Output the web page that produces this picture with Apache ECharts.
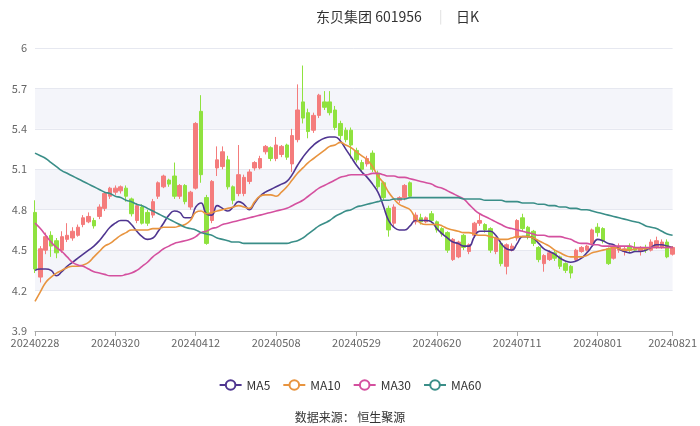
<!DOCTYPE html>
<html><head><meta charset="utf-8">
<script src="https://cdn.jsdelivr.net/npm/echarts@6/dist/echarts.min.js"></script>
<style>html,body{margin:0;padding:0;background:#fff}#c{width:700px;height:426px}</style>
</head><body><div id="c"></div>
<script>
const dates = [
'20240228','20240229',
'20240301','20240304','20240305','20240306','20240307','20240308','20240311','20240312','20240313','20240314','20240315',
'20240318','20240319','20240320','20240321','20240322','20240325','20240326','20240327','20240328','20240329',
'20240401','20240402','20240403','20240408','20240409','20240410','20240411','20240412','20240415','20240416','20240417','20240418','20240419',
'20240422','20240423','20240424','20240425','20240426','20240429','20240430',
'20240506','20240507','20240508','20240509','20240510','20240513','20240514','20240515','20240516','20240517',
'20240520','20240521','20240522','20240523','20240524','20240527','20240528','20240529','20240530','20240531',
'20240603','20240604','20240605','20240606','20240607','20240611','20240612','20240613','20240614',
'20240617','20240618','20240619','20240620','20240621','20240624','20240625','20240626','20240627','20240628',
'20240701','20240702','20240703','20240704','20240705','20240708','20240709','20240710','20240711','20240712',
'20240715','20240716','20240717','20240718','20240719','20240722','20240723','20240724','20240725','20240726',
'20240729','20240730','20240731',
'20240801','20240802','20240805','20240806','20240807','20240808','20240809','20240812','20240813','20240814','20240815','20240816',
'20240819','20240820','20240821'
];
// [open, close, low, high]
const kline = [
[4.78,4.36,4.33,4.87],[4.30,4.51,4.26,4.53],[4.50,4.60,4.47,4.63],[4.61,4.53,4.45,4.64],[4.57,4.48,4.44,4.59],
[4.50,4.60,4.48,4.64],[4.58,4.61,4.56,4.70],[4.59,4.64,4.57,4.67],[4.61,4.67,4.60,4.69],[4.69,4.74,4.67,4.76],
[4.71,4.75,4.70,4.78],[4.72,4.68,4.66,4.74],[4.75,4.82,4.73,4.84],[4.81,4.92,4.79,4.93],[4.90,4.96,4.88,4.97],
[4.93,4.96,4.91,4.98],[4.94,4.97,4.92,4.98],[4.96,4.90,4.86,4.98],[4.88,4.77,4.75,4.89],[4.72,4.83,4.70,4.85],
[4.82,4.70,4.69,4.84],[4.78,4.70,4.68,4.80],[4.76,4.86,4.74,4.88],[4.90,5.00,4.88,5.01],[4.97,5.05,4.96,5.06],
[5.02,4.99,4.97,5.03],[5.05,4.90,4.88,5.15],[4.90,4.98,4.88,4.99],[4.98,4.86,4.84,4.99],[4.82,4.93,4.80,4.94],
[4.96,5.44,4.95,5.45],[5.53,5.06,5.00,5.65],[4.89,4.55,4.54,4.91],[4.72,5.01,4.70,5.02],[5.11,5.17,5.05,5.27],
[5.12,5.23,5.10,5.27],[5.17,4.97,4.95,5.20],[4.97,4.87,4.84,4.98],[4.92,5.06,4.90,5.28],[4.92,5.04,4.90,5.06],
[5.01,5.08,4.99,5.10],[5.11,5.15,5.09,5.16],[5.11,5.18,5.10,5.20],[5.23,5.27,5.21,5.28],[5.26,5.18,5.16,5.27],
[5.18,5.28,5.16,5.34],[5.21,5.27,5.19,5.28],[5.28,5.19,5.17,5.29],[5.14,5.35,5.08,5.40],[5.32,5.54,5.30,5.73],
[5.60,5.48,5.44,5.87],[5.52,5.38,5.33,5.55],[5.39,5.50,5.37,5.52],[5.50,5.65,5.48,5.66],[5.60,5.56,5.54,5.68],
[5.60,5.52,5.50,5.68],[5.54,5.41,5.39,5.57],[5.44,5.35,5.32,5.46],[5.39,5.32,5.30,5.41],[5.39,5.28,5.18,5.41],
[5.24,5.17,5.15,5.26],[5.15,5.10,5.08,5.17],[5.14,5.18,5.12,5.20],[5.22,5.10,5.08,5.24],[5.07,4.97,4.95,5.09],
[5.00,4.89,4.87,5.01],[4.81,4.65,4.60,4.83],[4.70,4.82,4.68,4.84],[4.87,4.89,4.85,4.90],[4.89,4.98,4.87,4.99],
[5.00,4.90,4.89,5.01],[4.71,4.76,4.69,4.78],[4.74,4.71,4.69,4.77],[4.71,4.74,4.70,4.75],[4.77,4.72,4.70,4.79],
[4.71,4.65,4.63,4.72],[4.66,4.62,4.60,4.67],[4.63,4.50,4.48,4.64],[4.43,4.58,4.42,4.59],[4.45,4.56,4.44,4.57],
[4.61,4.52,4.50,4.62],[4.49,4.54,4.47,4.55],[4.61,4.70,4.59,4.71],[4.70,4.72,4.68,4.77],[4.69,4.65,4.63,4.70],
[4.66,4.50,4.48,4.67],[4.49,4.59,4.47,4.60],[4.55,4.40,4.38,4.57],[4.38,4.54,4.32,4.55],[4.50,4.53,4.49,4.55],
[4.59,4.72,4.57,4.73],[4.74,4.66,4.64,4.77],[4.67,4.60,4.58,4.68],[4.64,4.55,4.53,4.65],[4.52,4.43,4.41,4.53],
[4.40,4.46,4.34,4.47],[4.43,4.48,4.42,4.50],[4.48,4.44,4.42,4.50],[4.45,4.38,4.36,4.46],[4.40,4.35,4.33,4.41],
[4.38,4.33,4.29,4.39],[4.43,4.50,4.42,4.51],[4.49,4.52,4.48,4.53],[4.50,4.53,4.49,4.54],[4.55,4.65,4.54,4.66],
[4.67,4.63,4.60,4.70],[4.66,4.57,4.55,4.67],[4.51,4.40,4.39,4.52],[4.44,4.52,4.43,4.53],[4.50,4.53,4.48,4.55],
[4.49,4.51,4.46,4.53],[4.53,4.50,4.48,4.55],[4.52,4.50,4.49,4.56],[4.49,4.52,4.46,4.53],[4.52,4.50,4.48,4.54],
[4.50,4.56,4.49,4.58],[4.52,4.57,4.51,4.60],[4.52,4.56,4.51,4.58],[4.56,4.45,4.44,4.58],[4.47,4.52,4.46,4.53]
];
const ma5 = [4.35,4.36,4.36,4.35,4.31,4.34,4.38,4.41,4.44,4.47,4.50,4.53,4.57,4.62,4.67,4.70,4.72,4.72,4.69,4.64,
4.60,4.58,4.59,4.64,4.70,4.76,4.79,4.78,4.74,4.74,4.82,4.85,4.77,4.76,4.83,4.81,4.79,4.82,4.86,4.84,
4.80,4.85,4.90,4.93,4.95,4.97,4.99,5.01,5.06,5.13,5.19,5.24,5.28,5.31,5.33,5.34,5.34,5.31,5.25,5.19,
5.13,5.08,5.04,4.99,4.93,4.83,4.72,4.67,4.65,4.65,4.68,4.72,4.72,4.72,4.71,4.66,4.62,4.59,4.56,4.55,
4.53,4.53,4.60,4.64,4.64,4.64,4.61,4.55,4.51,4.50,4.55,4.60,4.60,4.59,4.55,4.51,4.49,4.47,4.44,4.42,
4.41,4.42,4.44,4.48,4.53,4.58,4.57,4.55,4.54,4.51,4.49,4.48,4.49,4.49,4.50,4.52,4.54,4.54,4.53,4.52];
const ma10 = [4.12,4.19,4.26,4.30,4.33,4.35,4.37,4.38,4.38,4.39,4.41,4.45,4.49,4.53,4.55,4.58,4.61,4.63,4.65,4.65,
4.65,4.65,4.66,4.66,4.67,4.67,4.67,4.68,4.69,4.72,4.78,4.79,4.77,4.78,4.79,4.80,4.81,4.82,4.83,4.82,
4.81,4.86,4.90,4.91,4.91,4.90,4.93,4.97,5.02,5.07,5.11,5.15,5.18,5.21,5.24,5.27,5.28,5.30,5.28,5.26,
5.23,5.20,5.17,5.12,5.05,5.00,4.93,4.88,4.84,4.82,4.80,4.74,4.70,4.69,4.69,4.69,4.68,4.66,4.65,4.64,
4.63,4.63,4.62,4.61,4.61,4.60,4.59,4.58,4.58,4.59,4.60,4.60,4.60,4.59,4.57,4.55,4.53,4.50,4.48,4.46,
4.45,4.45,4.45,4.46,4.48,4.49,4.50,4.51,4.52,4.51,4.50,4.50,4.51,4.51,4.51,4.52,4.52,4.52,4.52,4.52];
const ma30 = [4.70,4.66,4.61,4.56,4.52,4.49,4.45,4.41,4.39,4.38,4.36,4.34,4.33,4.32,4.31,4.31,4.31,4.32,4.33,4.35,
4.38,4.41,4.45,4.48,4.51,4.53,4.55,4.56,4.57,4.58,4.60,4.63,4.64,4.66,4.67,4.69,4.70,4.71,4.72,4.73,
4.74,4.75,4.76,4.77,4.78,4.79,4.80,4.81,4.83,4.85,4.87,4.90,4.93,4.96,4.98,5.00,5.02,5.04,5.05,5.06,
5.06,5.06,5.06,5.07,5.07,5.06,5.05,5.05,5.04,5.04,5.03,5.02,5.01,5.00,4.99,4.97,4.96,4.94,4.92,4.90,
4.88,4.84,4.80,4.77,4.75,4.73,4.71,4.69,4.67,4.66,4.65,4.64,4.63,4.62,4.61,4.61,4.60,4.60,4.60,4.59,
4.58,4.56,4.55,4.55,4.54,4.54,4.53,4.53,4.53,4.53,4.53,4.53,4.52,4.52,4.52,4.52,4.52,4.52,4.52,4.52];
const ma60 = [5.22,5.20,5.18,5.15,5.12,5.09,5.07,5.05,5.03,5.01,4.99,4.97,4.95,4.93,4.92,4.90,4.89,4.87,4.86,4.84,
4.83,4.81,4.79,4.77,4.75,4.73,4.71,4.69,4.67,4.66,4.65,4.63,4.62,4.61,4.59,4.58,4.57,4.56,4.56,4.55,
4.55,4.55,4.55,4.55,4.55,4.55,4.55,4.55,4.56,4.57,4.59,4.62,4.65,4.68,4.70,4.72,4.75,4.77,4.79,4.80,
4.82,4.83,4.84,4.85,4.86,4.87,4.87,4.88,4.88,4.88,4.89,4.89,4.89,4.89,4.89,4.89,4.89,4.89,4.89,4.89,
4.88,4.88,4.88,4.88,4.87,4.87,4.87,4.87,4.86,4.86,4.86,4.85,4.85,4.85,4.84,4.84,4.83,4.83,4.82,4.82,
4.81,4.81,4.80,4.80,4.79,4.78,4.77,4.76,4.75,4.74,4.73,4.72,4.71,4.70,4.68,4.67,4.66,4.64,4.62,4.61];
const yTicks = {min: 3.9, max: 6, interval: 0.3};
const titleText = '东贝集团 601956';
const periodText = '日K';
const sourceText = '数据来源： 恒生聚源';

const FONT = '"Noto Sans CJK SC", "Noto Sans", sans-serif';
const chart = echarts.init(document.getElementById('c'), null, {renderer: 'canvas'});
const lastIdx = dates.length - 1;
const showIdx = (i) => i % 15 === 0 || i === lastIdx;
const maColors = ['#4f3590', '#e8943f', '#d4509f', '#3a8e88'];
function ma(name, data, color) {
  return {name, type: 'line', data, smooth: true, symbol: 'emptyCircle', symbolSize: 8, showSymbol: false,
    lineStyle: {width: 1.6, color}, itemStyle: {color}, z: 3};
}
chart.setOption({
  animation: false,
  textStyle: {fontFamily: FONT},
  title: [
    {text: titleText, left: 311, top: 5, textStyle: {fontSize: 14, fontWeight: 'normal', color: '#333', fontFamily: FONT}},
    {text: '|', left: 434, top: 5, textStyle: {fontSize: 13, fontWeight: 'normal', color: '#ddd', fontFamily: FONT}},
    {text: periodText, left: 451, top: 5, textStyle: {fontSize: 14, fontWeight: 'normal', color: '#333', fontFamily: FONT}},
    {text: sourceText, left: 'center', top: 406, textStyle: {fontSize: 12, fontWeight: 'normal', color: '#333', fontFamily: FONT}}
  ],
  legend: {
    data: ['MA5', 'MA10', 'MA30', 'MA60'], bottom: 30, left: 'center', itemWidth: 22, itemHeight: 12, itemGap: 12,
    textStyle: {fontSize: 12, color: '#333', fontFamily: FONT}
  },
  grid: {left: 35, right: 27, top: 48, bottom: 95},
  xAxis: {
    type: 'category', data: dates, boundaryGap: false,
    axisLine: {lineStyle: {color: '#aaa'}},
    axisTick: {interval: (i) => showIdx(i), lineStyle: {color: '#aaa'}},
    axisLabel: {interval: (i) => showIdx(i), color: '#666', fontSize: 11, margin: 6, fontFamily: FONT},
    splitLine: {show: false}
  },
  yAxis: {
    type: 'value', min: yTicks.min, max: yTicks.max, interval: yTicks.interval, scale: true,
    axisLine: {show: false}, axisTick: {show: false},
    axisLabel: {color: '#666', fontSize: 11, margin: 8, fontFamily: FONT},
    splitLine: {lineStyle: {color: '#e6e8f0'}},
    splitArea: {show: true, areaStyle: {color: ['#ffffff', '#f4f5fa']}}
  },
  series: [
    {name: 'K', type: 'candlestick', data: kline, barWidth: 4, clip: false,
      itemStyle: {color: '#f47c7c', color0: '#8fe23f', borderColor: '#f47c7c', borderColor0: '#8fe23f', borderWidth: 1}},
    ma('MA5', ma5, maColors[0]),
    ma('MA10', ma10, maColors[1]),
    ma('MA30', ma30, maColors[2]),
    ma('MA60', ma60, maColors[3])
  ]
});
</script></body></html>
